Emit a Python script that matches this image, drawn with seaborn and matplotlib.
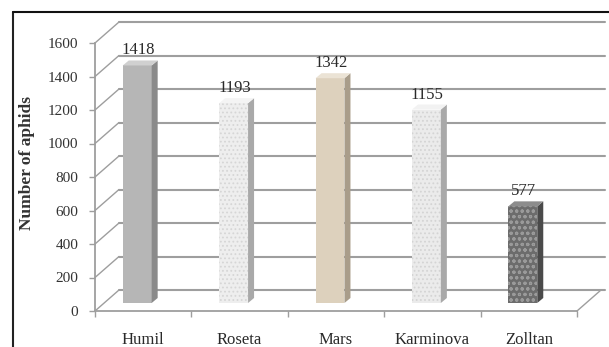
import numpy as np
import pandas as pd
import seaborn as sns
import matplotlib
matplotlib.use("Agg")
import matplotlib.pyplot as plt
from matplotlib import transforms as mtrans
from matplotlib.patches import Polygon
from matplotlib.lines import Line2D

# ---------------- data ----------------
cultivars = ["Humil", "Roseta", "Mars", "Karminova", "Zolltan"]
aphids = [1418, 1193, 1342, 1155, 577]
y_ticks = [0, 200, 400, 600, 800, 1000, 1200, 1400, 1600]
y_label = "Number of aphids"

front_colors = ["#b6b6b6", "#eeeeee", "#ddd1bd", "#ebebeb", "#6c6c6c"]
side_colors = ["#8a8a8a", "#a9a9a9", "#a99d8a", "#a9a9a9", "#4a4a4a"]
top_colors = ["#d0d0d0", "#f4f4f4", "#ebe3d5", "#f2f2f2", "#8c8c8c"]
hatches = [None, "....", None, "....", "ooo"]
hatch_colors = ["#b6b6b6", "#d6d6d6", "#ddd1bd", "#d4d4d4", "#9a9a9a"]

# ---------------- layout (pixels) ----------------
W, H = 609, 347
X0, X1 = 95, 577        # front floor edge
Y0, YTOP = 311, 43      # value 0 and value 1600 on the front plane
DX, DY = 24, 21         # depth of the wall / floor
BDX, BDY = -6, 8        # bar placement inside the depth
SDX, SDY = 6, 5         # bar depth (side/top faces)

sns.set_style("white")
plt.rcParams["font.family"] = ["Liberation Serif", "DejaVu Serif"]
plt.rcParams["hatch.linewidth"] = 0.8

fig = plt.figure(figsize=(W / 100, H / 100), dpi=100)
fig.patch.set_facecolor("white")
ax = fig.add_axes([X0 / W, (H - Y0) / H, (X1 - X0) / W, (Y0 - YTOP) / H])
ax.set_facecolor("none")

df = pd.DataFrame({"cultivar": cultivars, "aphids": aphids})
sns.barplot(data=df, x="cultivar", y="aphids", hue="cultivar",
            palette=front_colors, width=0.30, legend=False, ax=ax,
            linewidth=0, saturation=1)

ax.set_xlim(-0.5, len(cultivars) - 0.5)
ax.set_ylim(y_ticks[0], y_ticks[-1])

ident = mtrans.IdentityTransform()


def disp(x, y):
    return ax.transData.transform((x, y))


GRID = "#9e9e9e"
# back wall gridlines + left wall diagonals
for v in y_ticks:
    fx, fy = disp(-0.5, v)
    bx, by = fx + DX, fy + DY
    rx, _ = disp(len(cultivars) - 0.5, v)
    ax.add_line(Line2D([bx, min(rx + DX + 4, W - 4)], [by, by], transform=ident,
                       color=GRID, lw=1.5, zorder=0.5, clip_on=False))
    ax.add_line(Line2D([fx, bx], [fy, by], transform=ident,
                       color=GRID, lw=1.0, zorder=0.5, clip_on=False))

# floor right diagonal
rx, ry = disp(len(cultivars) - 0.5, 0)
ax.add_line(Line2D([rx, rx + DX], [ry, ry + DY], transform=ident,
                   color=GRID, lw=1.0, zorder=0.5, clip_on=False))

# bars: move into the depth, add side and top faces, labels
bar_tr = ax.transData + mtrans.Affine2D().translate(BDX, BDY)
bars = sorted(ax.patches, key=lambda p: p.get_x())
for i, p in enumerate(bars):
    p.set_transform(bar_tr)
    p.set_zorder(2)
    if hatches[i]:
        p.set_hatch(hatches[i])
        p.set_edgecolor(hatch_colors[i])
        p.set_linewidth(0)
    x0, x1 = p.get_x(), p.get_x() + p.get_width()
    h = p.get_height()
    (ax0, ay0) = bar_tr.transform((x0, 0))
    (ax1, ay1) = bar_tr.transform((x1, h))
    side = Polygon([(ax1, ay0), (ax1 + SDX, ay0 + SDY), (ax1 + SDX, ay1 + SDY), (ax1, ay1)],
                   closed=True, transform=ident, facecolor=side_colors[i],
                   edgecolor="none", zorder=2, clip_on=False)
    top = Polygon([(ax0, ay1), (ax1, ay1), (ax1 + SDX, ay1 + SDY), (ax0 + SDX, ay1 + SDY)],
                  closed=True, transform=ident, facecolor=top_colors[i],
                  edgecolor="none", zorder=2, clip_on=False)
    ax.add_patch(side)
    ax.add_patch(top)
    ax.text((ax0 + ax1) / 2 + 1, ay1 + SDY + 2, f"{aphids[i]}", transform=ident,
            ha="center", va="bottom", fontsize=12, color="#2a2a2a", zorder=3)

# axes styling
for s in ["top", "right"]:
    ax.spines[s].set_visible(False)
for s in ["left", "bottom"]:
    ax.spines[s].set_color(GRID)
    ax.spines[s].set_linewidth(1.3)

ax.set_yticks(y_ticks)
ax.set_yticklabels([str(v) for v in y_ticks])
ax.tick_params(axis="y", direction="out", length=4, width=1, color=GRID,
               pad=8, labelsize=11, labelcolor="#333333", left=True)
ax.set_xticks(range(len(cultivars)))
ax.set_xticklabels(cultivars)
ax.tick_params(axis="x", length=0, pad=15, labelsize=12, labelcolor="#2a2a2a")
ax.set_xticks(np.arange(-0.5, len(cultivars), 1.0), minor=True)
ax.tick_params(axis="x", which="minor", direction="out", length=4, width=1,
               color=GRID, bottom=True)
ax.set_xlabel("")
ax.set_ylabel("")
ax.grid(False)

fig.text(27 / W, 1 - 163 / H, y_label, rotation=90, ha="center", va="center",
         fontsize=12.5, fontweight="bold", color="#333333")

# outer frame (left and top edges visible in the crop)
fig.add_artist(Line2D([13 / W, 13 / W], [0, 1 - 12 / H], transform=fig.transFigure,
                      color="#222222", lw=1.5))
fig.add_artist(Line2D([13 / W, 1], [1 - 12 / H, 1 - 12 / H], transform=fig.transFigure,
                      color="#111111", lw=1.5))

fig.savefig("out.png", dpi=100)
